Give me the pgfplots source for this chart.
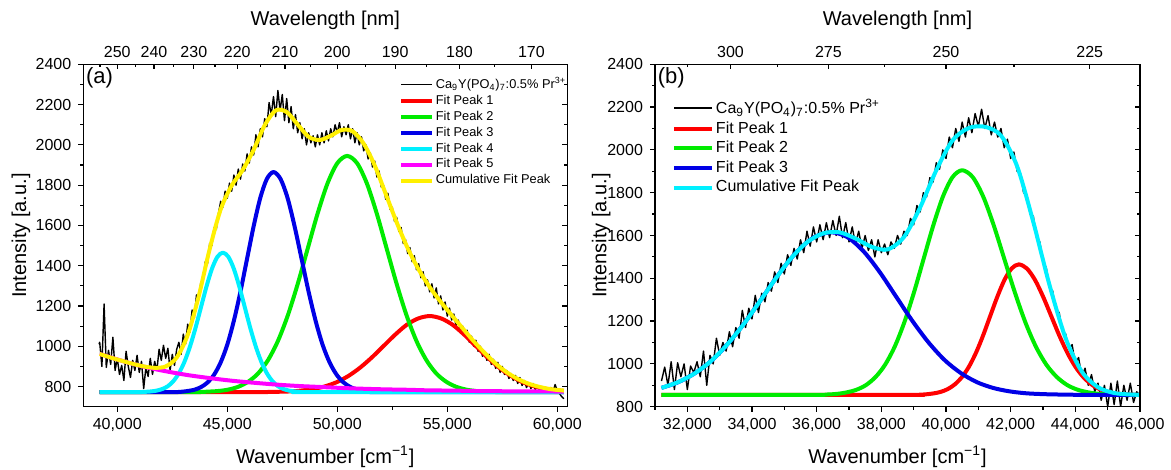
\documentclass[border=0pt]{standalone}
\usepackage{pgfplots}
\pgfplotsset{compat=1.18}
\usepackage{fontspec}
\setmainfont{Liberation Sans}

\definecolor{cRed}{RGB}{255,0,0}
\definecolor{cGreen}{RGB}{0,235,0}
\definecolor{cBlue}{RGB}{0,0,230}
\definecolor{cCyan}{RGB}{0,240,255}
\definecolor{cMag}{RGB}{255,0,255}
\definecolor{cYel}{RGB}{255,240,0}

\pgfplotsset{
  base/.style={
    scale only axis, width=242pt, height=171.2pt,
    axis line style={line width=0.65pt},
    major tick length=2.5pt, minor tick length=1.5pt,
    every tick/.append style={line width=0.6pt, black},
    tick label style={font=\fontsize{8}{9.6}\selectfont},
    label style={font=\fontsize{10}{12}\selectfont},
    /pgf/number format/assume math mode=true,
    /pgf/number format/1000 sep={},
    scaled x ticks=false, scaled y ticks=false,
  },
  fit/.style={line width=2pt, smooth, line join=round},
}

\begin{document}
\begin{tikzpicture}
\useasboundingbox (-41.65pt,-31.65pt) rectangle (543.85pt,203.35pt);

% ===================== Panel (a) =====================
\begin{axis}[base, at={(0pt,0pt)}, anchor=south west,
  xmin=38455, xmax=60455, ymin=700, ymax=2400,
  tick align=outside, xtick pos=left, ytick pos=left,
  xtick={40000,45000,50000,55000,60000},
  xticklabels={{40,000},{45,000},{50,000},{55,000},{60,000}},
  minor xtick={42500,47500,52500,57500},
  ytick={800,1000,...,2400}, minor ytick={900,1100,...,2300},
  xlabel={Wavenumber [cm\textsuperscript{−1}]},
  ylabel={Intensity [a.u.]},
  xlabel style={at={(axis description cs:0.5,-0.146)}, anchor=center},
  ylabel style={at={(axis description cs:-0.1287,0.5)}, anchor=center},
  legend style={at={(axis description cs:0.652,0.968)}, anchor=north west,
    draw=none, fill=none, font=\fontsize{6.4}{7.4}\selectfont, row sep=0.2pt,
    inner sep=0pt, nodes={inner sep=0.8pt}},
  legend cell align=left,
  legend image code/.code={\draw[#1, line cap=butt] (0pt,0pt) -- (15.5pt,0pt);},
]
\addplot[black, line width=0.7pt, line join=round] coordinates {
(39170,1010)(39200,1020)(39300,900)(39400,1210)(39500,895)(39600,980)(39700,910)(39800,1045)(39900,880)(40000,940)
(40100,860)(40200,905)(40300,830)(40400,975)(40500,900)(40600,845)(40700,930)(40800,880)(40900,955)(41000,870)
(41100,925)(41200,790)(41300,895)(41400,850)(41500,940)(41600,860)(41700,925)(41800,880)(41900,985)(42000,930)
(42100,1005)(42200,940)(42300,990)(42400,880)(42500,960)(42600,905)(42700,985)(42800,1020)(42900,960)(43000,1060)
(43100,1010)(43200,1110)(43300,1070)(43400,1180)(43500,1140)(43600,1255)(43700,1230)(43800,1320)(43900,1330)(44000,1420)
(44100,1410)(44200,1510)(44300,1500)(44400,1590)(44500,1580)(44600,1660)(44700,1720)(44800,1690)(44900,1770)(45000,1735)
(45100,1810)(45200,1770)(45300,1850)(45400,1800)(45500,1880)(45600,1830)(45700,1905)(45800,1870)(45900,1955)(46000,1910)
(46100,1990)(46200,1950)(46300,2050)(46400,1990)(46500,2080)(46600,2040)(46700,2130)(46800,2090)(46900,2210)(47000,2150)
(47100,2240)(47200,2140)(47300,2270)(47400,2170)(47500,2250)(47600,2120)(47700,2230)(47800,2110)(47900,2190)(48000,2080)
(48100,2150)(48200,2060)(48300,2110)(48400,2030)(48500,2080)(48600,2000)(48700,2060)(48800,2010)(48900,2045)(49000,1990)
(49100,2050)(49200,2000)(49300,2060)(49400,2010)(49500,2070)(49600,2020)(49700,2080)(49800,2040)(49900,2100)(50000,2060)
(50100,2110)(50200,2040)(50300,2090)(50400,2050)(50500,2100)(50600,2030)(50700,2080)(50800,2010)(50900,2060)(51000,2000)
(51100,2040)(51200,1970)(51300,2000)(51400,1930)(51500,1960)(51600,1890)(51700,1920)(51800,1840)(51900,1870)(52000,1790)
(52100,1800)(52200,1730)(52300,1760)(52400,1680)(52500,1690)(52600,1620)(52700,1640)(52800,1570)(52900,1590)(53000,1510)
(53100,1530)(53200,1460)(53300,1490)(53400,1420)(53500,1450)(53600,1380)(53700,1410)(53800,1340)(53900,1370)(54000,1300)
(54100,1330)(54200,1270)(54300,1310)(54400,1240)(54500,1290)(54600,1210)(54700,1250)(54800,1180)(54900,1220)(55000,1150)
(55100,1190)(55200,1130)(55300,1160)(55400,1100)(55500,1130)(55600,1075)(55700,1100)(55800,1050)(55900,1080)(56000,1020)
(56100,1050)(56200,1000)(56300,1030)(56400,975)(56500,1000)(56600,950)(56700,975)(56800,930)(56900,960)(57000,910)
(57100,935)(57200,890)(57300,920)(57400,870)(57500,900)(57600,860)(57700,880)(57800,840)(57900,865)(58000,830)
(58100,855)(58200,815)(58300,845)(58400,805)(58500,830)(58600,795)(58700,820)(58800,790)(58900,815)(59000,785)
(59100,805)(59200,780)(59300,800)(59400,775)(59500,790)(59600,770)(59700,795)(59800,770)(59900,810)(60000,780)
(60100,765)(60200,750)(60300,740)
};
\addlegendentry{Ca\textsubscript{9}Y(PO\textsubscript{4})\textsubscript{7}:0.5\% Pr\textsuperscript{3+}}
\addplot[cRed, fit] coordinates {
(39200,772)(45800,772)(46850,773)(47900,776)(48425,781)(48950,789)(49475,802)(50000,823)(50525,854)(51050,895)
(51575,945)(52100,1001)(52625,1057)(53150,1106)(53675,1138)(54200,1150)(54725,1138)(55250,1106)(55775,1057)(56300,1001)
(56825,945)(57350,895)(57875,854)(58400,823)(58925,802)(59450,789)(59975,781)(60300,778)
};
\addlegendentry{Fit Peak 1}
\addplot[cGreen, fit] coordinates {
(39200,772)(43250,772)(44150,775)(44600,778)(45050,785)(45500,799)(45950,824)(46400,865)(46850,931)(47300,1026)
(47750,1153)(48200,1309)(48650,1483)(49100,1657)(49550,1807)(50000,1909)(50450,1945)(50900,1909)(51350,1807)(51800,1657)
(52250,1483)(52700,1309)(53150,1153)(53600,1026)(54050,931)(54500,865)(54950,824)(55400,799)(55850,785)(56300,778)
(56750,775)(57650,772)(60300,772)
};
\addlegendentry{Fit Peak 2}
\addplot[cBlue, fit] coordinates {
(39200,772)(42300,772)(42900,774)(43200,778)(43500,784)(43800,797)(44100,820)(44400,859)(44700,920)(45000,1008)
(45300,1127)(45600,1272)(45900,1435)(46200,1597)(46500,1737)(46800,1831)(47100,1865)(47419,1831)(47738,1737)(48056,1597)
(48375,1435)(48694,1272)(49013,1127)(49331,1008)(49650,920)(49969,859)(50288,820)(50606,797)(50925,784)(51244,778)
(51563,774)(52200,772)(60300,772)
};
\addlegendentry{Fit Peak 3}
\addplot[cCyan, fit] coordinates {
(39200,772)(40800,772)(41300,774)(41550,776)(41800,780)(42050,788)(42300,802)(42550,827)(42800,866)(43050,922)
(43300,997)(43550,1089)(43800,1192)(44050,1295)(44300,1384)(44550,1444)(44800,1465)(45050,1444)(45300,1384)(45550,1295)
(45800,1192)(46050,1089)(46300,997)(46550,922)(46800,866)(47050,827)(47300,802)(47550,788)(47800,780)(48050,776)
(48300,774)(48800,772)(60300,772)
};
\addlegendentry{Fit Peak 4}
\addplot[cMag, fit] coordinates {
(39200,962)(40200,928)(41200,899)(42200,876)(43200,857)(44200,842)(45200,829)(46200,819)(47200,810)(48200,803)
(49200,798)(50200,793)(51200,789)(52200,786)(53200,784)(54200,781)(55200,780)(56200,778)(57200,777)(58200,776)
(59200,776)(60300,775)
};
\addlegendentry{Fit Peak 5}
\addplot[cYel, fit] coordinates {
(39200,962)(39700,944)(40200,928)(40700,913)(41200,900)(41700,893)(42200,900)(42700,944)(43200,1056)(43700,1248)
(44200,1483)(44700,1680)(45200,1798)(45700,1875)(46200,1976)(46700,2097)(47200,2171)(47700,2163)(48200,2101)(48700,2040)
(49200,2024)(49700,2045)(50200,2074)(50700,2067)(51200,2006)(51700,1898)(52200,1757)(52700,1615)(53200,1487)(53700,1381)
(54200,1294)(54700,1221)(55200,1154)(55700,1089)(56200,1025)(56700,967)(57200,914)(57700,871)(58200,838)(58700,814)
(59200,798)(59700,787)(60200,781)(60300,780)
};
\addlegendentry{Cumulative Fit Peak}
\node[anchor=north west, font=\fontsize{11}{13}\selectfont, inner sep=0pt] at (rel axis cs:0.005,0.991) {(a)};
\end{axis}

\begin{axis}[base, at={(0pt,0pt)}, anchor=south west,
  xmin=38455, xmax=60455, ymin=700, ymax=2400,
  tick align=inside, xtick pos=right, ytick pos=right, xticklabel pos=right,
  yticklabels={},
  xtick={40000,41666.67,43478.26,45454.55,47619.05,50000,52631.58,55555.56,58823.53},
  xticklabels={250,240,230,220,210,200,190,180,170},
  minor xtick={39215.69,40816.33,42553.19,44444.44,46511.63,48780.49,51282.05,54054.05,57142.86},
  ytick={800,1000,...,2400}, minor ytick={900,1100,...,2300},
  xlabel={Wavelength [nm]},
  xlabel style={at={(axis description cs:0.5,1.129)}, anchor=center},
]
\end{axis}

% ===================== Panel (b) =====================
\begin{axis}[base, at={(285.85pt,0pt)}, anchor=south west, width=242.5pt,
  xmin=31000, xmax=46000, ymin=800, ymax=2400,
  tick align=outside, xtick pos=left, ytick pos=left,
  xtick={32000,34000,36000,38000,40000,42000,44000,46000},
  xticklabels={{32,000},{34,000},{36,000},{38,000},{40,000},{42,000},{44,000},{46,000}},
  minor xtick={31000,33000,35000,37000,39000,41000,43000,45000},
  ytick={800,1000,...,2400}, minor ytick={900,1100,...,2300},
  xlabel={Wavenumber [cm\textsuperscript{−1}]},
  ylabel={Intensity [a.u.]},
  xlabel style={at={(axis description cs:0.5,-0.146)}, anchor=center},
  ylabel style={at={(axis description cs:-0.111,0.5)}, anchor=center},
  legend style={at={(axis description cs:0.035,0.903)}, anchor=north west,
    draw=none, fill=none, font=\fontsize{8}{9.6}\selectfont, row sep=0.9pt,
    inner sep=0pt, nodes={inner sep=0.8pt}},
  legend cell align=left,
  legend image code/.code={\draw[#1, line cap=butt] (0pt,0pt) -- (19pt,0pt);},
]
\addplot[black, line width=0.7pt, line join=round] coordinates {
(31200,920)(31300,985)(31400,900)(31500,1010)(31600,880)(31700,1005)(31800,940)(31900,1000)(32000,880)(32100,990)
(32200,960)(32300,1010)(32400,940)(32500,1060)(32600,900)(32700,1040)(32800,1000)(32900,1120)(33000,1040)(33100,1100)
(33200,1060)(33300,1150)(33400,1080)(33500,1170)(33600,1120)(33700,1250)(33800,1170)(33900,1260)(34000,1210)(34100,1320)
(34200,1240)(34300,1330)(34400,1290)(34500,1380)(34600,1340)(34700,1430)(34800,1380)(34900,1470)(35000,1420)(35100,1510)
(35200,1460)(35300,1540)(35400,1490)(35500,1580)(35600,1520)(35700,1620)(35800,1550)(35900,1640)(36000,1570)(36100,1650)
(36200,1580)(36300,1660)(36400,1590)(36500,1670)(36600,1600)(36700,1690)(36800,1590)(36900,1660)(37000,1570)(37100,1640)
(37200,1560)(37300,1620)(37400,1540)(37500,1600)(37600,1530)(37700,1580)(37800,1500)(37900,1580)(38000,1520)(38100,1560)
(38200,1510)(38300,1570)(38400,1540)(38500,1600)(38600,1560)(38700,1620)(38800,1600)(38900,1680)(39000,1650)(39100,1740)
(39200,1710)(39300,1800)(39400,1780)(39500,1870)(39600,1850)(39700,1940)(39800,1910)(39900,2000)(40000,1960)(40100,2060)
(40200,2010)(40300,2100)(40400,2040)(40500,2130)(40600,2060)(40700,2150)(40800,2080)(40900,2170)(41000,2110)(41100,2190)
(41200,2100)(41300,2160)(41400,2070)(41500,2130)(41600,2060)(41700,2100)(41800,2010)(41900,2050)(42000,1960)(42100,1990)
(42200,1900)(42300,1890)(42400,1800)(42500,1790)(42600,1700)(42700,1690)(42800,1590)(42900,1570)(43000,1480)(43100,1450)
(43200,1360)(43300,1340)(43400,1250)(43500,1240)(43600,1150)(43700,1140)(43800,1070)(43900,1090)(44000,1000)(44100,1030)
(44200,940)(44300,980)(44400,900)(44500,950)(44600,870)(44700,910)(44800,830)(44900,900)(45000,800)(45100,910)
(45200,810)(45300,920)(45400,800)(45500,900)(45600,830)(45700,910)(45800,820)(45900,870)(46000,850)
};
\addlegendentry{Ca\textsubscript{9}Y(PO\textsubscript{4})\textsubscript{7}:0.5\% Pr\textsuperscript{3+}}
\addplot[cRed, fit] coordinates {
(31200,855)(38730,855)(39170,856)(39390,858)(39610,862)(39830,869)(40050,882)(40270,904)(40490,938)(40710,987)
(40930,1053)(41150,1134)(41370,1225)(41590,1315)(41810,1393)(42030,1446)(42250,1465)(42500,1446)(42750,1393)(43000,1315)
(43250,1225)(43500,1134)(43750,1053)(44000,987)(44250,938)(44500,904)(44750,882)(45000,869)(45250,862)(45500,858)
(45750,856)(46000,855)
};
\addlegendentry{Fit Peak 1}
\addplot[cGreen, fit] coordinates {
(31200,855)(35740,855)(36335,857)(36633,860)(36930,867)(37228,879)(37525,901)(37823,939)(38120,997)(38418,1082)
(38715,1196)(39013,1336)(39310,1492)(39608,1648)(39905,1782)(40203,1873)(40500,1905)(40825,1873)(41150,1782)(41475,1648)
(41800,1492)(42125,1336)(42450,1196)(42775,1082)(43100,997)(43425,939)(43750,901)(44075,879)(44400,867)(44725,860)
(45050,857)(45700,855)(46000,855)
};
\addlegendentry{Fit Peak 2}
\addplot[cBlue, fit] coordinates {
(31200,888)(31725,915)(32250,958)(32775,1019)(33300,1102)(33825,1203)(34350,1316)(34875,1429)(35400,1526)(35925,1592)
(36450,1615)(36950,1592)(37450,1526)(37950,1429)(38450,1316)(38950,1203)(39450,1102)(39950,1019)(40450,958)(40950,915)
(41450,888)(41950,872)(42450,863)(42950,859)(43450,857)(44450,855)(46000,855)
};
\addlegendentry{Fit Peak 3}
\addplot[cCyan, fit] coordinates {
(31200,888)(31700,914)(32200,953)(32700,1009)(33200,1085)(33700,1177)(34200,1283)(34700,1392)(35200,1492)(35700,1568)
(36200,1610)(36700,1615)(37200,1586)(37700,1547)(38200,1535)(38700,1593)(39200,1731)(39700,1905)(40200,2044)(40700,2102)
(41200,2108)(41700,2067)(42200,1923)(42700,1663)(43200,1369)(43700,1120)(44200,964)(44700,891)(45200,864)(45700,857)
(46000,855)
};
\addlegendentry{Cumulative Fit Peak}
\node[anchor=north west, font=\fontsize{11}{13}\selectfont, inner sep=0pt] at (rel axis cs:0.005,0.991) {(b)};
\end{axis}

\begin{axis}[base, at={(285.85pt,0pt)}, anchor=south west, width=242.5pt,
  xmin=31000, xmax=46000, ymin=800, ymax=2400,
  tick align=inside, xtick pos=right, ytick pos=right, xticklabel pos=right,
  yticklabels={},
  xtick={33333.33,36363.64,40000,44444.44},
  xticklabels={300,275,250,225},
  minor xtick={32000,34782.61,38095.24,42105.26},
  ytick={800,1000,...,2400}, minor ytick={900,1100,...,2300},
  xlabel={Wavelength [nm]},
  xlabel style={at={(axis description cs:0.5,1.129)}, anchor=center},
]
\end{axis}
\end{tikzpicture}
\end{document}
